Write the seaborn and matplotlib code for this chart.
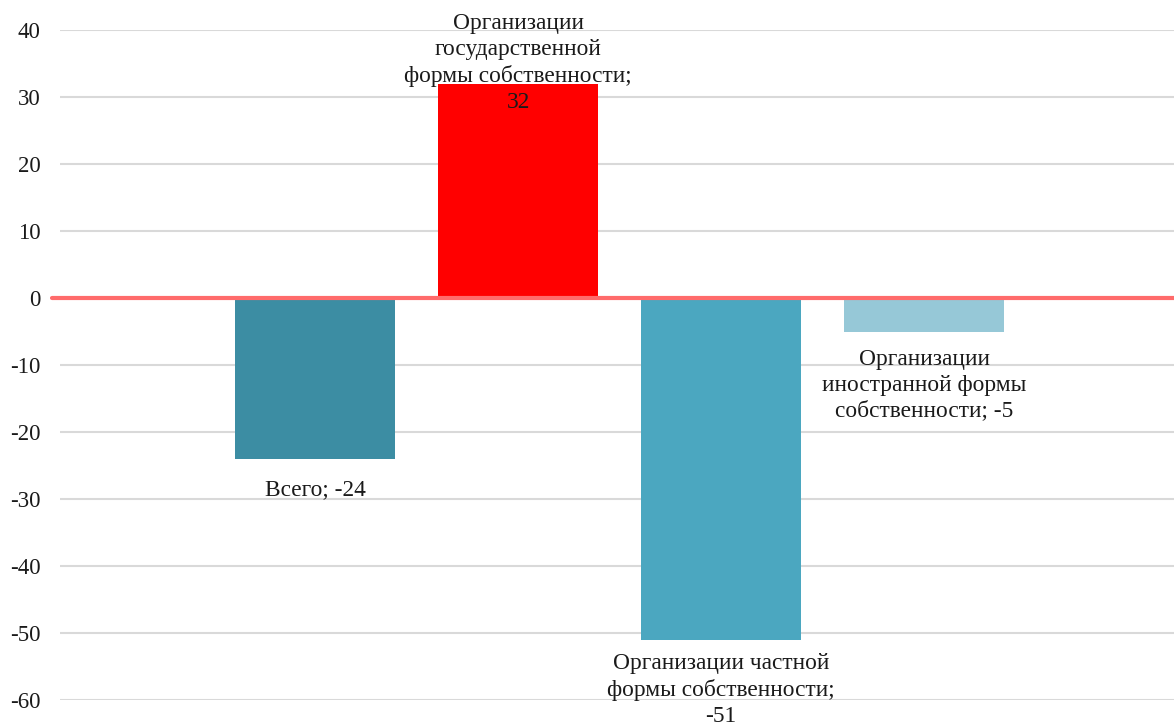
import matplotlib
matplotlib.use("Agg")
import matplotlib.pyplot as plt
import seaborn as sns
import pandas as pd

categories = [
    "Всего",
    "Организации государственной формы собственности",
    "Организации частной формы собственности",
    "Организации иностранной формы собственности",
]
values = [-24, 32, -51, -5]
bar_colors = ["#3C8DA3", "#FF0000", "#4BA7C0", "#96C8D7"]
label_texts = [
    "Всего; -24",
    "Организации\nгосударственной\nформы собственности;\n32",
    "Организации частной\nформы собственности;\n-51",
    "Организации\nиностранной формы\nсобственности; -5",
]
y_ticks = [40, 30, 20, 10, 0, -10, -20, -30, -40, -50, -60]

df = pd.DataFrame({"category": categories, "value": values})

sns.set_theme(style="white")
plt.rcParams["font.family"] = ["Liberation Serif", "DejaVu Serif"]

fig = plt.figure(figsize=(11.74, 7.24), dpi=100)
ax = fig.add_axes([60 / 1174, 24 / 724, 1 - 60 / 1174, 1 - 54 / 724])

sns.barplot(
    data=df, x="category", y="value", hue="category",
    palette=bar_colors, width=0.79, legend=False, ax=ax,
    saturation=1, linewidth=0,
)

ax.set_ylim(-60, 40)
ax.set_xlim(-1.256, 4.23)
ax.set_yticks(y_ticks)
ax.set_yticklabels([str(t) for t in y_ticks], fontsize=16.5, color="#1a1a1a")
ax.set_xticks([])
ax.set_xlabel("")
ax.set_ylabel("")
ax.tick_params(axis="y", length=0, pad=14)
for s in ax.spines.values():
    s.set_visible(False)

ax.yaxis.grid(True, color="#D9D9D9", linewidth=1.5)
ax.set_axisbelow(True)

# zero baseline
ax.axhline(0, xmin=-0.007, xmax=1, color="#FF6B6B", linewidth=3, clip_on=False, zorder=5)

# value labels
offsets = [-15, -21, -9.5, -12.5]
for i, (v, txt, off) in enumerate(zip(values, label_texts, offsets)):
    va = "top" if v < 0 else "bottom"
    ax.annotate(
        txt, xy=(i, v), xytext=(0, off), textcoords="offset points",
        ha="center", va=va, fontsize=16.8, color="#1a1a1a",
        linespacing=1.3, zorder=6,
    )

fig.savefig("out.png", dpi=100)
